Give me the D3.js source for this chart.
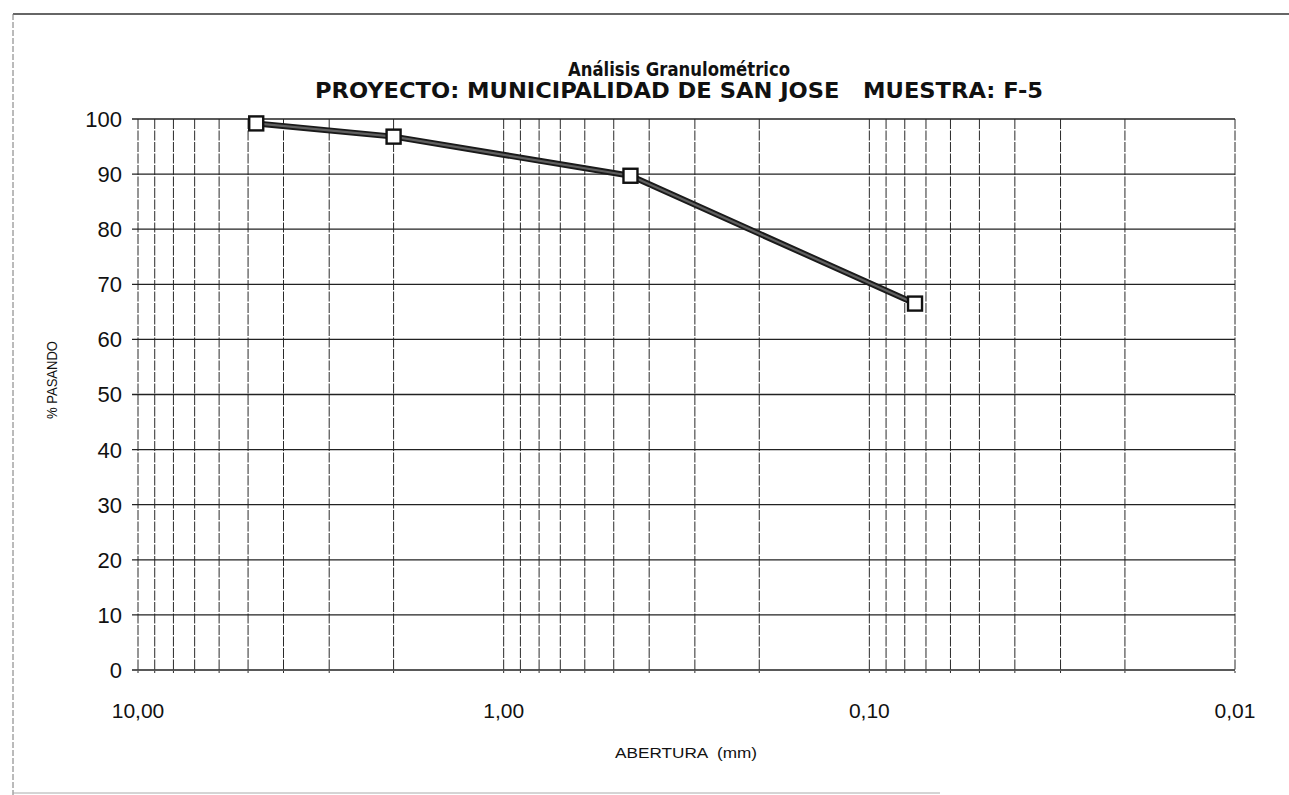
<!DOCTYPE html>
<html lang="es">
<head>
<meta charset="utf-8">
<title>Análisis Granulométrico</title>
<script src="https://d3js.org/d3.v7.min.js"></script>
<style>
  body { margin: 0; background: #fff; }
  text { font-family: "Liberation Sans", Arial, sans-serif; fill: #111; }
</style>
</head>
<body>
<div id="chart"></div>
<script>
// aberturas (mm) y % que pasa
var aberturas = [4.75, 2.0, 0.45, 0.075];
var pasando = [99.2, 96.8, 89.7, 66.5];

var xTicks = [10, 1, 0.1, 0.01];
var xTickLabels = ["10,00", "1,00", "0,10", "0,01"];
var yTicks = [0, 10, 20, 30, 40, 50, 60, 70, 80, 90, 100];

var titulo1 = "Análisis Granulométrico";
var titulo2 = "PROYECTO: MUNICIPALIDAD DE SAN JOSE   MUESTRA: F-5";

var width = 1289, height = 795;
var margin = {left: 138, right: 54, top: 119, bottom: 125};

var svg = d3.select("#chart").append("svg")
    .attr("width", width)
    .attr("height", height);

var x = d3.scaleLog()
    .domain([10, 0.01])
    .range([margin.left, width - margin.right]);

var y = d3.scaleLinear()
    .domain([0, 100])
    .range([height - margin.bottom, margin.top]);

// outer frame of the sheet
svg.append("line").attr("x1", 13).attr("x2", width).attr("y1", 14).attr("y2", 14)
    .attr("stroke", "#333").attr("stroke-width", 1.3);
svg.append("line").attr("x1", 13).attr("x2", 13).attr("y1", 14).attr("y2", height)
    .attr("stroke", "#777").attr("stroke-width", 1).attr("stroke-dasharray", "6,2");
svg.append("line").attr("x1", 13).attr("x2", 940).attr("y1", 793).attr("y2", 793)
    .attr("stroke", "#aaa").attr("stroke-width", 1);

// vertical grid: every 1..9 of each decade
var minor = [];
[1, 0.1, 0.01].forEach(function(d) {
    for (var k = 1; k <= 9; k++) minor.push(+(k * d).toFixed(4));
});
minor.push(10);

svg.append("g")
    .selectAll("line")
    .data(minor)
    .enter().append("line")
    .attr("x1", function(d) { return x(d); })
    .attr("x2", function(d) { return x(d); })
    .attr("y1", y(100))
    .attr("y2", y(0) + 3)
    .attr("stroke", "#2a2a2a")
    .attr("stroke-width", 1)
    .attr("stroke-dasharray", "10,1.5");

// horizontal grid
svg.append("g")
    .selectAll("line")
    .data(yTicks)
    .enter().append("line")
    .attr("x1", x(10) - 6)
    .attr("x2", x(0.01))
    .attr("y1", function(d) { return y(d); })
    .attr("y2", function(d) { return y(d); })
    .attr("stroke", "#222")
    .attr("stroke-width", 1.3);

// y labels
svg.append("g")
    .selectAll("text")
    .data(yTicks)
    .enter().append("text")
    .attr("x", 122)
    .attr("y", function(d) { return y(d); })
    .attr("dy", "0.36em")
    .attr("text-anchor", "end")
    .attr("font-size", 22)
    .text(function(d) { return d; });

// x labels
svg.append("g")
    .selectAll("text")
    .data(xTicks)
    .enter().append("text")
    .attr("x", function(d) { return x(d); })
    .attr("y", 718)
    .attr("text-anchor", "middle")
    .attr("font-size", 21)
    .text(function(d, i) { return xTickLabels[i]; });

// series
var pts = aberturas.map(function(d, i) { return [d, pasando[i]]; });
var line = d3.line()
    .x(function(d) { return x(d[0]); })
    .y(function(d) { return y(d[1]); });

svg.append("path").datum(pts)
    .attr("d", line)
    .attr("fill", "none")
    .attr("stroke", "#1a1a1a")
    .attr("stroke-width", 6)
    .attr("stroke-linejoin", "round");
svg.append("path").datum(pts)
    .attr("d", line)
    .attr("fill", "none")
    .attr("stroke", "#606060")
    .attr("stroke-width", 2.2);

svg.append("g")
    .selectAll("rect")
    .data(pts)
    .enter().append("rect")
    .attr("x", function(d) { return x(d[0]) - 7; })
    .attr("y", function(d) { return y(d[1]) - 7; })
    .attr("width", 14)
    .attr("height", 14)
    .attr("fill", "#fff")
    .attr("stroke", "#111")
    .attr("stroke-width", 2.4);

// titles
svg.append("text")
    .attr("x", 679).attr("y", 76)
    .attr("text-anchor", "middle")
    .attr("font-size", 20)
    .attr("font-weight", "bold")
    .style("font-family", "'Liberation Sans Narrow', 'DejaVu Sans Condensed', sans-serif")
    .attr("textLength", 222)
    .attr("lengthAdjust", "spacingAndGlyphs")
    .text(titulo1);

svg.append("text")
    .attr("x", 679).attr("y", 98)
    .attr("text-anchor", "middle")
    .attr("font-size", 21)
    .attr("font-weight", "bold")
    .style("font-family", "'Liberation Sans Narrow', 'DejaVu Sans Condensed', sans-serif")
    .style("white-space", "pre")
    .attr("textLength", 728)
    .attr("lengthAdjust", "spacingAndGlyphs")
    .text(titulo2);

// axis titles
svg.append("text")
    .attr("transform", "translate(57,380) rotate(-90)")
    .attr("text-anchor", "middle")
    .attr("font-size", 14)
    .attr("textLength", 78)
    .attr("lengthAdjust", "spacingAndGlyphs")
    .text("% PASANDO");

svg.append("text")
    .attr("x", 686).attr("y", 758)
    .attr("text-anchor", "middle")
    .attr("font-size", 14)
    .style("white-space", "pre")
    .attr("textLength", 142)
    .attr("lengthAdjust", "spacingAndGlyphs")
    .text("ABERTURA  (mm)");
</script>
</body>
</html>
